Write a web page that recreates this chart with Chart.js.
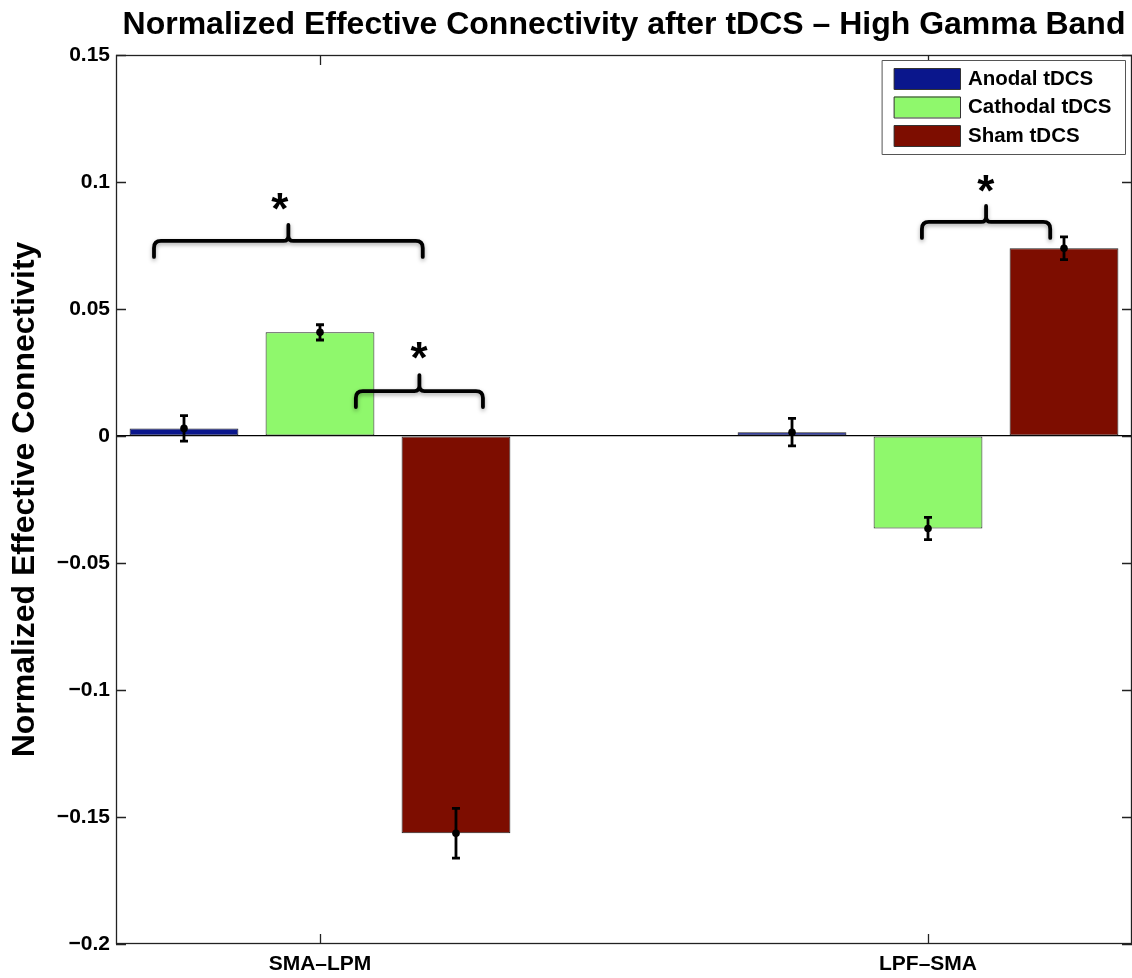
<!DOCTYPE html>
<html>
<head>
<meta charset="utf-8">
<script src="https://cdn.jsdelivr.net/npm/chart.js@4.4.1/dist/chart.umd.min.js"></script>
<style>
  html, body { margin: 0; padding: 0; background: #fff; }
  #wrap { width: 1132px; height: 978px; position: relative; }
</style>
</head>
<body>
<div id="wrap"><canvas id="chart"></canvas></div>
<script>
// values
const categories = ['SMA\u2013LPM', 'LPF\u2013SMA'];
const seriesNames = ['Anodal tDCS', 'Cathodal tDCS', 'Sham tDCS'];
const anodal = [0.003, 0.0015];
const cathodal = [0.0408, -0.0364];
const sham = [-0.1564, 0.0739];
const anodalErr = [0.005, 0.0054];
const cathodalErr = [0.003, 0.0044];
const shamErr = [0.0098, 0.0045];
const yTicks = [-0.2, -0.15, -0.1, -0.05, 0, 0.05, 0.1, 0.15];
// significance braces [x from, x to, y] and stars [x, y], in axis units
const braces = [[0.727, 1.169, 0.0768], [1.059, 1.268, 0.0177], [1.990, 2.201, 0.0843]];
const stars = [[0.934, 0.0935], [1.163, 0.0345], [2.095, 0.1002]];

const colors = ['#0A168C', '#8FF86C', '#7D0D00'];
const FONT = "'Liberation Sans', Arial, Helvetica, sans-serif";

const toPts = vals => vals.map((v, i) => ({x: i + 1, y: v}));

function drawBrace(ctx, xa, xb, yy) {
    const drop = 16, rise = 16, r = 7, rm = 5;
    const xm = (xa + xb) / 2;
    ctx.beginPath();
    ctx.moveTo(xa, yy + drop);
    ctx.lineTo(xa, yy + r);
    ctx.quadraticCurveTo(xa, yy, xa + r, yy);
    ctx.lineTo(xm - rm, yy);
    ctx.quadraticCurveTo(xm, yy, xm, yy - rm);
    ctx.lineTo(xm, yy - rise);
    ctx.moveTo(xm, yy - rm);
    ctx.quadraticCurveTo(xm, yy, xm + rm, yy);
    ctx.lineTo(xb - r, yy);
    ctx.quadraticCurveTo(xb, yy, xb, yy + r);
    ctx.lineTo(xb, yy + drop);
    ctx.stroke();
}

const extras = {
    id: 'extras',
    afterDatasetsDraw(chart) {
        const {ctx, chartArea: a, scales: {x, y}} = chart;
        ctx.save();

        // error bars with centre dots
        ctx.strokeStyle = '#000';
        ctx.fillStyle = '#000';
        ctx.lineWidth = 2.8;
        chart.data.datasets.forEach((ds, i) => {
            const meta = chart.getDatasetMeta(i);
            meta.data.forEach((bar, j) => {
                const v = ds.data[j].y, e = ds.err[j];
                const y1 = y.getPixelForValue(v - e);
                const y2 = y.getPixelForValue(v + e);
                const yc = y.getPixelForValue(v);
                ctx.beginPath();
                ctx.moveTo(bar.x, y1); ctx.lineTo(bar.x, y2);
                ctx.moveTo(bar.x - 4, y1); ctx.lineTo(bar.x + 4, y1);
                ctx.moveTo(bar.x - 4, y2); ctx.lineTo(bar.x + 4, y2);
                ctx.stroke();
                ctx.beginPath();
                ctx.arc(bar.x, yc, 3.8, 0, Math.PI * 2);
                ctx.fill();
            });
        });

        // axes box and inward ticks
        ctx.strokeStyle = '#222';
        ctx.lineWidth = 1.3;
        ctx.strokeRect(a.left + 0.5, a.top + 0.5, a.right - a.left - 1, a.bottom - a.top - 1);
        ctx.beginPath();
        y.ticks.forEach(t => {
            const py = Math.round(y.getPixelForValue(t.value)) + 0.5;
            ctx.moveTo(a.left, py); ctx.lineTo(a.left + 10, py);
            ctx.moveTo(a.right, py); ctx.lineTo(a.right - 10, py);
        });
        x.ticks.forEach(t => {
            const px = Math.round(x.getPixelForValue(t.value)) + 0.5;
            ctx.moveTo(px, a.bottom); ctx.lineTo(px, a.bottom - 10);
            ctx.moveTo(px, a.top); ctx.lineTo(px, a.top + 10);
        });
        ctx.stroke();

        // significance braces
        ctx.strokeStyle = '#000';
        ctx.lineWidth = 3.8;
        ctx.lineCap = 'round';
        ctx.lineJoin = 'round';
        ctx.shadowColor = 'rgba(0,0,0,0.35)';
        ctx.shadowBlur = 4;
        ctx.shadowOffsetY = 2;
        braces.forEach(b => {
            drawBrace(ctx, x.getPixelForValue(b[0]), x.getPixelForValue(b[1]), y.getPixelForValue(b[2]));
        });
        ctx.shadowColor = 'transparent';

        ctx.fillStyle = '#000';
        ctx.font = 'bold 44px ' + FONT;
        ctx.textAlign = 'center';
        ctx.textBaseline = 'alphabetic';
        stars.forEach(s => {
            ctx.fillText('*', x.getPixelForValue(s[0]), y.getPixelForValue(s[1]) + 25);
        });

        // legend
        const lx = a.right - 250, ly = a.top + 5, lw = 243, lh = 94;
        ctx.fillStyle = '#fff';
        ctx.fillRect(lx, ly, lw, lh);
        ctx.strokeStyle = '#555';
        ctx.lineWidth = 1;
        ctx.strokeRect(lx + 0.5, ly + 0.5, lw, lh);
        ctx.font = 'bold 20.5px ' + FONT;
        ctx.textAlign = 'left';
        ctx.textBaseline = 'middle';
        chart.data.datasets.forEach((ds, i) => {
            const ry = ly + 8 + i * 28.5;
            ctx.fillStyle = ds.backgroundColor;
            ctx.fillRect(lx + 12, ry, 66, 21);
            ctx.strokeStyle = '#333';
            ctx.strokeRect(lx + 12.5, ry + 0.5, 66, 21);
            ctx.fillStyle = '#000';
            ctx.fillText(ds.label, lx + 86, ry + 11);
        });

        // title
        ctx.font = 'bold 32px ' + FONT;
        ctx.textAlign = 'center';
        ctx.textBaseline = 'alphabetic';
        ctx.fillText('Normalized Effective Connectivity after tDCS \u2013 High Gamma Band', (a.left + a.right) / 2, 34);

        ctx.restore();
    }
};

const datasetStyle = {
    borderColor: '#222',
    borderWidth: 1,
    borderSkipped: false,
    categoryPercentage: 0.671,
    barPercentage: 0.8,
};

new Chart(document.getElementById('chart'), {
    type: 'bar',
    data: {
        datasets: [
            {label: seriesNames[0], data: toPts(anodal), err: anodalErr, backgroundColor: colors[0], ...datasetStyle},
            {label: seriesNames[1], data: toPts(cathodal), err: cathodalErr, backgroundColor: colors[1], ...datasetStyle},
            {label: seriesNames[2], data: toPts(sham), err: shamErr, backgroundColor: colors[2], ...datasetStyle},
        ],
    },
    options: {
        responsive: true,
        maintainAspectRatio: false,
        animation: false,
        layout: {padding: {top: 55, left: 0, right: 0, bottom: 0}},
        plugins: {
            legend: {display: false},
            title: {display: false},
            tooltip: {enabled: false},
        },
        scales: {
            x: {
                type: 'linear',
                min: 0.6645,
                max: 2.3355,
                offset: false,
                grid: {display: false, drawTicks: false},
                border: {display: false},
                afterBuildTicks: s => { s.ticks = categories.map((c, i) => ({value: i + 1})); },
                afterFit: s => { s.height = 34; s.paddingLeft = 0; s.paddingRight = 0; },
                ticks: {
                    autoSkip: false,
                    maxRotation: 0,
                    padding: 8,
                    color: '#000',
                    font: {family: FONT, size: 21, weight: 'bold'},
                    callback: v => categories[Math.round(v) - 1],
                },
            },
            y: {
                min: -0.2,
                max: 0.15,
                afterBuildTicks: s => { s.ticks = yTicks.map(v => ({value: v})); },
                afterFit: s => { s.width = 116; s.paddingTop = 0; s.paddingBottom = 0; },
                border: {display: false},
                grid: {
                    drawTicks: false,
                    lineWidth: 1.2,
                    color: c => Math.abs(c.tick.value) < 1e-9 ? '#000' : 'rgba(0,0,0,0)',
                },
                ticks: {
                    padding: 6,
                    color: '#000',
                    font: {family: FONT, size: 21, weight: 'bold'},
                    callback: v => Math.abs(v) < 1e-9 ? '0' : String(+v.toFixed(2)).replace('-', '\u2212'),
                },
                title: {
                    display: true,
                    text: 'Normalized Effective Connectivity',
                    color: '#000',
                    font: {family: FONT, size: 32, weight: 'bold'},
                    padding: {top: 6, bottom: 0},
                },
            },
        },
    },
    plugins: [extras],
});
</script>
</body>
</html>
